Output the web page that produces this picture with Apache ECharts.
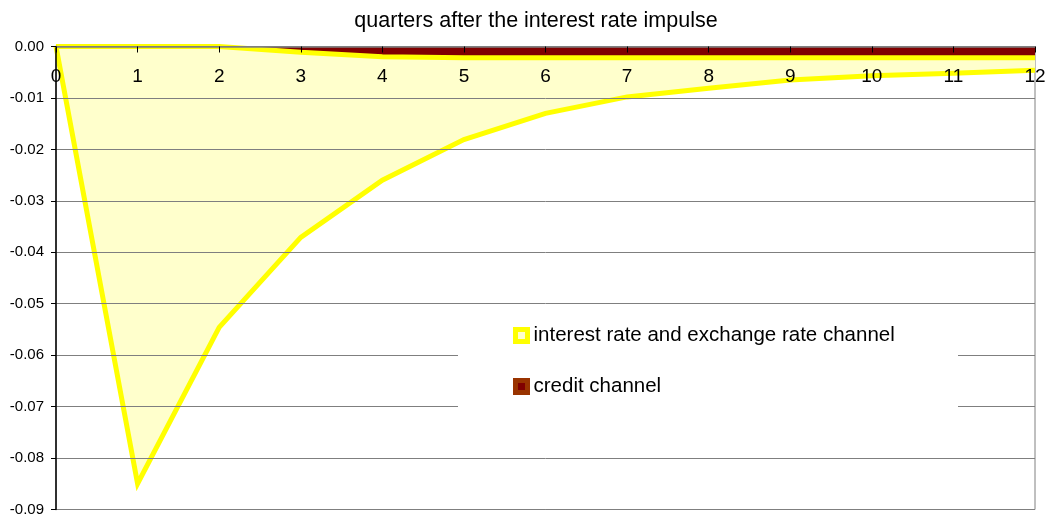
<!DOCTYPE html>
<html>
<head>
<meta charset="utf-8">
<script src="https://cdn.jsdelivr.net/npm/echarts@6/dist/echarts.min.js"></script>
<style>
  html, body { margin: 0; padding: 0; background: #fff; }
  #main { width: 1050px; height: 517px; }
</style>
</head>
<body>
<div id="main"></div>
<script>
// quarters after the impulse
var quarters = ['0', '1', '2', '3', '4', '5', '6', '7', '8', '9', '10', '11', '12'];
// credit channel contribution (stacked first, near zero)
var creditChannel = [0, 0, 0, -0.0011, -0.0020, -0.0022, -0.0022, -0.0022, -0.0022, -0.0022, -0.0022, -0.0022, -0.0022];
// interest rate and exchange rate channel (stacked below credit)
var rateChannel = [0, -0.085, -0.0546, -0.0360, -0.0240, -0.0159, -0.0108, -0.0076, -0.0059, -0.0043, -0.0035, -0.0030, -0.0024];
var yTicks = { min: -0.09, max: 0, step: 0.01 };

var myChart = echarts.init(document.getElementById('main'));

var option = {
    animation: false,
    backgroundColor: '#fff',
    textStyle: { fontFamily: 'Liberation Sans, Arial, sans-serif' },
    title: {
        text: 'quarters after the interest rate impulse',
        left: 531,
        textAlign: 'center',
        top: 5,
        textStyle: { fontSize: 21.5, fontWeight: 'normal', color: '#000' }
    },
    grid: {
        left: 56, right: 15, top: 46.5, bottom: 6,
        show: true, borderColor: '#808080', borderWidth: 1, backgroundColor: 'transparent'
    },
    // white box behind the legend, hides the gridlines there
    graphic: [{
        type: 'rect',
        z: 11,
        shape: { x: 458, y: 316, width: 500, height: 98 },
        style: { fill: '#fff' }
    }],
    legend: {
        z: 12,
        orient: 'vertical',
        left: 508,
        top: 320,
        itemGap: 30,
        itemWidth: 12,
        itemHeight: 12,
        icon: 'rect',
        textStyle: { fontSize: 20.5, color: '#000', padding: [0, 0, 0, 1] },
        data: [
            { name: 'interest rate and exchange rate channel',
              itemStyle: { color: '#FFFFCC', borderColor: '#FFFF00', borderWidth: 5 } },
            { name: 'credit channel',
              itemStyle: { color: '#800000', borderColor: '#993300', borderWidth: 5 } }
        ]
    },
    xAxis: {
        type: 'category',
        data: quarters,
        boundaryGap: false,
        position: 'top',
        z: 10,
        axisLine: { lineStyle: { color: '#808080', width: 1.5 } },
        axisTick: { inside: true, length: 6, lineStyle: { color: '#000' } },
        axisLabel: { inside: true, margin: 21, fontSize: 19, color: '#000' },
        splitLine: { show: false }
    },
    yAxis: {
        type: 'value',
        min: yTicks.min,
        max: yTicks.max,
        interval: yTicks.step,
        z: 10,
        axisLine: { show: true, lineStyle: { color: '#000', width: 1.5 } },
        axisTick: { show: true, length: 5, lineStyle: { color: '#000' } },
        axisLabel: {
            fontSize: 15, color: '#000', margin: 12,
            formatter: function (v) { return (Math.abs(v) < 1e-9 ? 0 : v).toFixed(2); }
        },
        splitLine: { lineStyle: { color: '#7f7f7f', width: 1 } }
    },
    series: [
        {
            name: 'credit channel',
            type: 'line',
            stack: 'total',
            z: 4,
            data: creditChannel,
            showSymbol: false,
            symbol: 'none',
            itemStyle: { color: '#800000' },
            lineStyle: { color: '#FFFF00', width: 5 },
            areaStyle: { color: '#800000', opacity: 1 }
        },
        {
            name: 'interest rate and exchange rate channel',
            type: 'line',
            stack: 'total',
            z: 3,
            data: rateChannel,
            showSymbol: false,
            symbol: 'none',
            itemStyle: { color: '#FFFFCC' },
            lineStyle: { color: '#FFFF00', width: 5, join: 'miter' },
            areaStyle: { color: '#FFFFCC', opacity: 1 }
        }
    ]
};

myChart.setOption(option);
</script>
</body>
</html>
